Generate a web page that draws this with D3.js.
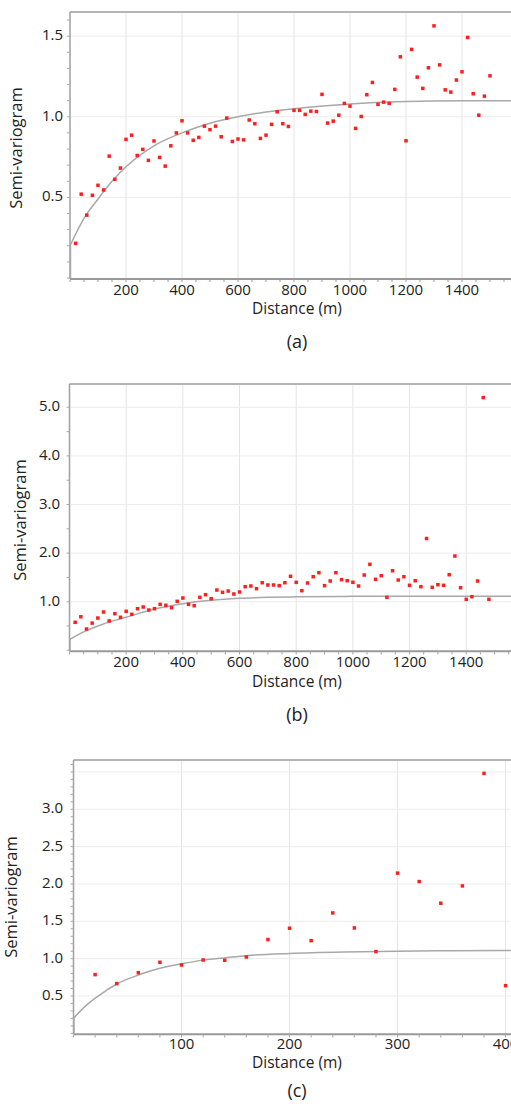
<!DOCTYPE html>
<html>
<head>
<meta charset="utf-8">
<script src="https://cdn.jsdelivr.net/npm/d3@7"></script>
<style>
  body { margin: 0; background: #fff; }
  text { font-family: "Open Sans", "Noto Sans", sans-serif; fill: #222; }
</style>
</head>
<body>
<div id="canvas"></div>
<script>
"use strict"
let svgWidth = 511;
let svgHeight = 1110;

// (a) empirical semi-variogram, lag distance in m
let distA = [20,40,60,80,100,120,140,160,180,200,220,240,260,280,300,320,340,360,380,400,
  420,440,460,480,500,520,540,560,580,600,620,640,660,680,700,720,740,760,780,800,
  820,840,860,880,900,920,940,960,980,1000,1020,1040,1060,1080,1100,1120,1140,1160,1180,1200,
  1220,1240,1260,1280,1300,1320,1340,1360,1380,1400,1420,1440,1460,1480,1500];
let gammaA = [0.215,0.52,0.39,0.513,0.575,0.546,0.756,0.612,0.682,0.86,0.886,0.76,0.798,0.73,0.85,0.748,0.694,0.82,0.90,0.975,
  0.90,0.854,0.872,0.942,0.92,0.942,0.876,0.992,0.847,0.862,0.857,0.98,0.957,0.866,0.886,0.953,1.031,0.957,0.94,1.04,
  1.04,1.015,1.035,1.033,1.139,0.961,0.973,1.01,1.083,1.066,0.928,1.002,1.137,1.213,1.077,1.091,1.083,1.17,1.372,0.851,
  1.418,1.246,1.176,1.304,1.564,1.322,1.167,1.153,1.228,1.279,1.492,1.143,1.01,1.128,1.254];
let modelDistA = [0,50,100,150,200,300,400,500,600,700,800,1000,1200,1400,1600];
let modelA = [0.2,0.37,0.49,0.6,0.69,0.82,0.9,0.96,1.0,1.03,1.05,1.08,1.095,1.1,1.1];

// (b)
let distB = [20,40,60,80,100,120,140,160,180,200,220,240,260,280,300,320,340,360,380,400,
  420,440,460,480,500,520,540,560,580,600,620,640,660,680,700,720,740,760,780,800,
  820,840,860,880,900,920,940,960,980,1000,1020,1040,1060,1080,1100,1120,1140,1160,1180,1200,
  1220,1240,1260,1280,1300,1320,1340,1360,1380,1400,1420,1440,1460,1480];
let gammaB = [0.576,0.69,0.438,0.56,0.664,0.788,0.603,0.753,0.679,0.802,0.74,0.856,0.891,0.829,0.856,0.946,0.926,0.877,1.008,1.076,
  0.946,0.918,1.09,1.144,1.062,1.24,1.193,1.22,1.158,1.2,1.309,1.323,1.268,1.391,1.344,1.344,1.33,1.391,1.523,1.399,
  1.227,1.385,1.515,1.597,1.33,1.426,1.597,1.453,1.432,1.399,1.323,1.549,1.769,1.46,1.535,1.09,1.638,1.446,1.515,1.337,
  1.432,1.309,2.30,1.296,1.35,1.337,1.556,1.94,1.288,1.049,1.103,1.426,5.2,1.049];
let modelDistB = [0,50,100,150,200,300,400,500,600,700,800,1000,1200,1400,1600];
let modelB = [0.22,0.38,0.5,0.6,0.68,0.85,0.96,1.03,1.07,1.09,1.1,1.11,1.11,1.11,1.11];

// (c)
let distC = [20,40,60,80,100,120,140,160,180,200,220,240,260,280,300,320,340,360,380,400];
let gammaC = [0.786,0.665,0.812,0.951,0.915,0.982,0.978,1.022,1.255,1.407,1.241,1.612,1.411,1.094,2.145,2.032,1.742,1.974,3.48,0.638];
let modelDistC = [0,10,20,30,40,60,80,100,120,140,160,200,250,300,350,410];
let modelC = [0.2,0.35,0.47,0.57,0.66,0.78,0.87,0.93,0.98,1.01,1.04,1.07,1.09,1.1,1.105,1.11];

let xTicksAB = [200,400,600,800,1000,1200,1400];
let xTicksC = [100,200,300,400];
let yTicksA = [0.5,1.0,1.5];
let yTicksB = [1.0,2.0,3.0,4.0,5.0];
let yTicksC = [0.5,1.0,1.5,2.0,2.5,3.0];

let svg = d3.select("#canvas")
  .append("svg")
  .attr("width", svgWidth)
  .attr("height", svgHeight);

function drawPanel(p) {
  let xScale = d3.scaleLinear().domain([0, p.xMax]).range([p.left, svgWidth]);
  let yScale = d3.scaleLinear().domain([0, p.yMax]).range([p.bottom, p.top]);
  let g = svg.append("g");

  // grid
  g.selectAll(".vgrid").data(p.xTicks).join("line")
    .attr("x1", d => xScale(d)).attr("x2", d => xScale(d))
    .attr("y1", p.top).attr("y2", p.bottom)
    .attr("stroke", "#e4e4e4").attr("stroke-width", 1);
  g.selectAll(".hgrid").data(p.yGrid).join("line")
    .attr("x1", p.left).attr("x2", svgWidth)
    .attr("y1", d => yScale(d)).attr("y2", d => yScale(d))
    .attr("stroke", "#ececec").attr("stroke-width", 1);

  // frame
  g.append("line")
    .attr("x1", p.left).attr("x2", svgWidth)
    .attr("y1", p.top).attr("y2", p.top)
    .attr("stroke", "#b4b4b4").attr("stroke-width", 2);
  g.append("line")
    .attr("x1", p.left).attr("x2", p.left)
    .attr("y1", p.top).attr("y2", p.bottom + 1)
    .attr("stroke", "#a0a0a0").attr("stroke-width", 1.5);
  g.append("line")
    .attr("x1", p.left).attr("x2", svgWidth)
    .attr("y1", p.bottom + 1).attr("y2", p.bottom + 1)
    .attr("stroke", "#999").attr("stroke-width", 2);

  // minor ticks
  let xMinor = d3.range(0, p.xMax, p.xMinor);
  g.selectAll(".xminor").data(xMinor).join("line")
    .attr("x1", d => xScale(d)).attr("x2", d => xScale(d))
    .attr("y1", p.bottom + 2).attr("y2", p.bottom + 4)
    .attr("stroke", "#999");
  let yMinor = d3.range(0, p.yMax, p.yMinor);
  g.selectAll(".yminor").data(yMinor).join("line")
    .attr("x1", p.left - 3).attr("x2", p.left)
    .attr("y1", d => yScale(d)).attr("y2", d => yScale(d))
    .attr("stroke", "#aaa");

  // tick labels
  g.selectAll(".xlab").data(p.xTicks).join("text")
    .attr("x", d => xScale(d))
    .attr("y", p.xLabelY)
    .attr("text-anchor", "middle")
    .attr("dominant-baseline", "middle")
    .attr("font-size", 15)
    .text(d => d);
  g.selectAll(".ylab").data(p.yTicks).join("text")
    .attr("x", p.yLabelX)
    .attr("y", d => yScale(d))
    .attr("text-anchor", "end")
    .attr("dominant-baseline", "middle")
    .attr("font-size", 15)
    .text(d => d.toFixed(1));

  // model curve
  let line = d3.line()
    .x((d, i) => xScale(d))
    .y((d, i) => yScale(p.model[i]))
    .curve(d3.curveMonotoneX);
  g.append("path")
    .attr("d", line(p.modelDist))
    .attr("fill", "none")
    .attr("stroke", "#a8a8a8")
    .attr("stroke-width", 1.5);
  // short vertical nugget stroke at the origin
  g.append("line")
    .attr("x1", xScale(0) + 0.5).attr("x2", xScale(0) + 0.5)
    .attr("y1", p.bottom).attr("y2", yScale(p.model[0]))
    .attr("stroke", "#a8a8a8")
    .attr("stroke-width", 1.5);

  // empirical points
  g.selectAll(".pt").data(p.dist).join("rect")
    .attr("x", d => xScale(d) - 1.75)
    .attr("y", (d, i) => yScale(p.gamma[i]) - 1.75)
    .attr("width", 3.5)
    .attr("height", 3.5)
    .attr("fill", "#ff1e1e");

  // titles
  g.append("text")
    .attr("x", 297)
    .attr("y", p.titleY)
    .attr("text-anchor", "middle")
    .attr("dominant-baseline", "middle")
    .attr("font-size", 15.5)
    .text("Distance (m)");
  g.append("text")
    .attr("transform", "translate(" + p.yTitleX + "," + p.yTitleY + ") rotate(-90)")
    .attr("text-anchor", "middle")
    .attr("dominant-baseline", "middle")
    .attr("font-size", 16.5)
    .text("Semi-variogram");
  g.append("text")
    .attr("x", 297)
    .attr("y", p.captionY)
    .attr("text-anchor", "middle")
    .attr("dominant-baseline", "middle")
    .attr("font-size", 18)
    .text(p.caption);
}

drawPanel({
  dist: distA, gamma: gammaA, modelDist: modelDistA, model: modelA,
  xTicks: xTicksAB, yTicks: yTicksA, yGrid: yTicksA,
  xMax: 1575, yMax: 1.65, left: 70, top: 12, bottom: 278,
  xMinor: 50, yMinor: 0.1,
  xLabelY: 291, yLabelX: 63, titleY: 310, captionY: 343,
  yTitleX: 18, yTitleY: 148, caption: "(a)"
});

drawPanel({
  dist: distB, gamma: gammaB, modelDist: modelDistB, model: modelB,
  xTicks: xTicksAB, yTicks: yTicksB, yGrid: yTicksB,
  xMax: 1558, yMax: 5.48, left: 69.5, top: 384, bottom: 650.3,
  xMinor: 50, yMinor: 0.5,
  xLabelY: 663, yLabelX: 60, titleY: 683, captionY: 716,
  yTitleX: 22, yTitleY: 520, caption: "(b)"
});

drawPanel({
  dist: distC, gamma: gammaC, modelDist: modelDistC, model: modelC,
  xTicks: xTicksC, yTicks: yTicksC, yGrid: [0.5,1.0,1.5,2.0,2.5,3.0,3.5],
  xMax: 405, yMax: 3.66, left: 73.5, top: 760, bottom: 1033.3,
  xMinor: 20, yMinor: 0.1,
  xLabelY: 1045, yLabelX: 63, titleY: 1064, captionY: 1092,
  yTitleX: 13, yTitleY: 897, caption: "(c)"
});
</script>
</body>
</html>
